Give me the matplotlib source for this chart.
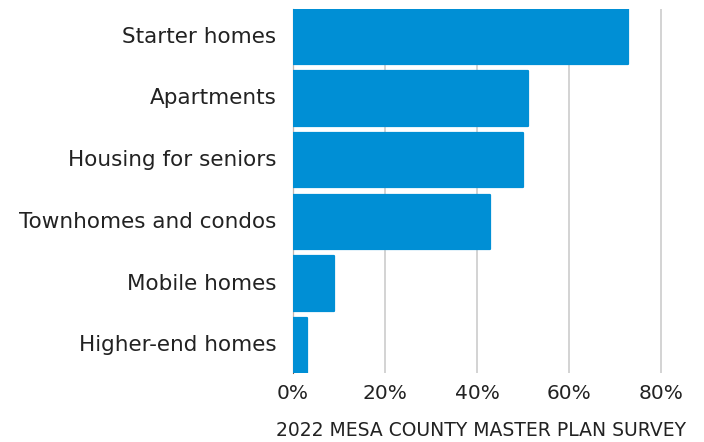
import matplotlib
matplotlib.use("Agg")
import matplotlib.pyplot as plt
import matplotlib.transforms as mtransforms
from matplotlib.ticker import FuncFormatter

# housing types people said the county needs, share of respondents (%)
categories = ["Starter homes", "Apartments", "Housing for seniors",
              "Townhomes and condos", "Mobile homes", "Higher-end homes"]
shares = [72.9, 51.0, 49.9, 42.9, 9.0, 3.0]
ticks = [0, 20, 40, 60, 80]
source = "2022 MESA COUNTY MASTER PLAN SURVEY"

plt.rcParams["font.family"] = ["DejaVu Sans"]

fig = plt.figure(figsize=(7.04, 4.42), dpi=100)
ax = fig.add_axes([293 / 704, 1 - 373 / 442, (668 - 293) / 704, 364 / 442])

pos = list(range(len(categories)))[::-1]
# thin edge in the same colour with round joins softens the corners
ax.barh(pos, shares, height=0.885, color="#008fd5", edgecolor="#008fd5",
        linewidth=1.6, joinstyle="round", zorder=3)

ax.set_ylim(-0.45, len(categories) - 0.55)
ax.set_xlim(0, 81.5)
ax.set_yticks(pos)
ax.set_yticklabels(categories, fontsize=15.5, color="#222222")
ax.set_xticks(ticks)
ax.xaxis.set_major_formatter(FuncFormatter(lambda v, _: f"{v:.0f}%"))
ax.tick_params(axis="x", labelsize=14.5, labelcolor="#222222", length=0, pad=8)
ax.tick_params(axis="y", length=0, pad=12)
nudge = mtransforms.ScaledTranslation(0, 2 / 100, fig.dpi_scale_trans)
for lbl in ax.get_yticklabels():
    lbl.set_transform(lbl.get_transform() + nudge)

ax.grid(axis="x", color="#cccccc", linewidth=1.2, zorder=0)
for s in ["top", "right", "bottom"]:
    ax.spines[s].set_visible(False)
ax.spines["left"].set_color("#7a5a4a")
ax.spines["left"].set_linewidth(0.8)
ax.spines["left"].set_zorder(1)

ax.set_xlabel(source, fontsize=13.5, color="#222222", labelpad=13)

fig.savefig("out.png", dpi=100)
